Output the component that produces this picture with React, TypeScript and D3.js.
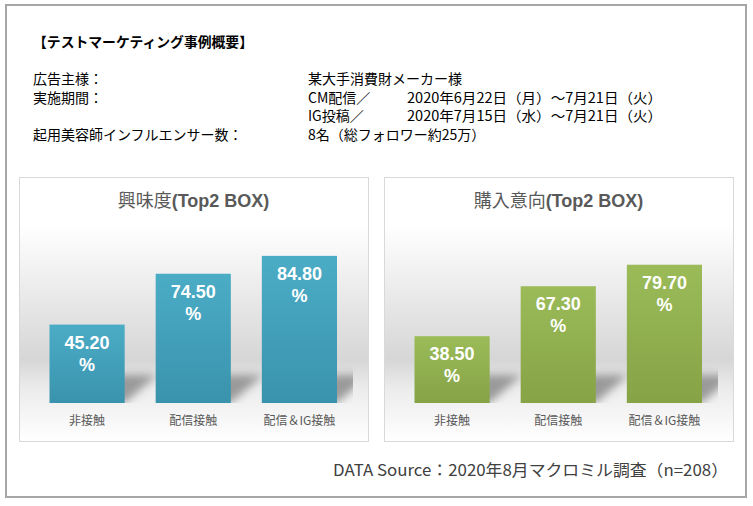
import React from 'react';
import * as d3 from 'd3';

// chart data
const categories = ['非接触', '配信接触', '配信＆IG接触'];
const interestValues = [45.2, 74.5, 84.8];
const purchaseValues = [38.5, 67.3, 79.7];
const panelTitlesJp = ['興味度', '購入意向'];
const panelTitleSuffix = '(Top2 BOX)';

// summary text block
const headerTitle = '【テストマーケティング事例概要】';
const summaryLabels = ['広告主様：', '実施期間：', '', '起用美容師インフルエンサー数：'];
const summaryValues = ['某大手消費財メーカー様', 'CM配信／', 'IG投稿／', '8名（総フォロワー約25万）'];
const summaryDates = ['', '2020年6月22日（月）～7月21日（火）', '2020年7月15日（水）～7月21日（火）', ''];
const sourceNote = 'DATA Source：2020年8月マクロミル調査（n=208）';

const W = 753;
const H = 506;
const jp = '"Noto Sans CJK JP", "Noto Sans", sans-serif';
const titleFont = '"Liberation Sans", Arial, "Noto Sans CJK JP", sans-serif';

type PanelProps = {
  id: string;
  x0: number;
  titleJp: string;
  values: number[];
  top: string;
  bottom: string;
};

const panelW = 349;
const panelTop = 177;
const panelH = 264;
const baseY = 403;

const Panel = ({ id, x0, titleJp, values, top, bottom }: PanelProps) => {
  const x = d3.scaleBand<string>()
    .domain(categories)
    .range([x0 + 15, x0 + 333.5])
    .paddingInner(0.292)
    .paddingOuter(0.146);
  const y = d3.scaleLinear().domain([0, 100]).range([baseY, 229.5]);
  const plotRight = x0 + 334;

  return (
    <g>
      <defs>
        <linearGradient id={`bg-${id}`} x1="0" y1="0" x2="0" y2="1">
          <stop offset="0" stopColor="#ffffff" />
          <stop offset="0.18" stopColor="#ffffff" />
          <stop offset="0.69" stopColor="#d6d6d6" />
          <stop offset="0.8" stopColor="#ececec" />
          <stop offset="1" stopColor="#ffffff" />
        </linearGradient>
        <linearGradient id={`bar-${id}`} x1="0" y1="0" x2="0" y2="1">
          <stop offset="0" stopColor={top} />
          <stop offset="1" stopColor={bottom} />
        </linearGradient>
        <filter id={`blur-${id}`} x="-50%" y="-50%" width="200%" height="200%">
          <feGaussianBlur stdDeviation="4" />
        </filter>
        <clipPath id={`clip-${id}`}>
          <rect x={x0} y={panelTop} width={plotRight - x0} height={baseY - panelTop} />
        </clipPath>
      </defs>
      <rect x={x0 + 0.5} y={panelTop + 0.5} width={panelW} height={panelH}
        fill={`url(#bg-${id})`} stroke="#d9d9d9" strokeWidth={1} />
      <text x={x0 + panelW / 2} y={207} textAnchor="middle" fontFamily={titleFont}
        fontSize={18} fill="#595959">
        <tspan fontWeight="normal">{titleJp}</tspan>
        <tspan fontWeight="bold">{panelTitleSuffix}</tspan>
      </text>

      {/* perspective shadows behind the bars */}
      <g clipPath={`url(#clip-${id})`}>
        {values.map((v, i) => {
          const bx = x(categories[i]) as number;
          const bw = x.bandwidth();
          const d = `M${bx + 10},${baseY} L${bx + bw},${baseY} L${bx + bw + 32},${baseY - 28} L${bx + 42},${baseY - 28} Z`;
          return <path key={i} d={d} fill="#7f7f7f" opacity={0.75} filter={`url(#blur-${id})`} />;
        })}
      </g>

      {values.map((v, i) => {
        const bx = x(categories[i]) as number;
        const bw = x.bandwidth();
        return (
          <g key={i}>
            <rect x={bx} y={y(v)} width={bw} height={baseY - y(v)} fill={`url(#bar-${id})`} />
            <text x={bx + bw / 2} y={y(v) + 24} textAnchor="middle" fontFamily={titleFont}
              fontWeight="bold" fontSize={18} fill="#ffffff">{v.toFixed(2)}</text>
            <text x={bx + bw / 2} y={y(v) + 46} textAnchor="middle" fontFamily={titleFont}
              fontWeight="bold" fontSize={18} fill="#ffffff">%</text>
            <text x={bx + bw / 2} y={425} textAnchor="middle" fontFamily={jp}
              fontSize={12} fill="#595959">{categories[i]}</text>
          </g>
        );
      })}
    </g>
  );
};

export default function App() {
  return (
    <svg width={W} height={H} style={{ position: 'absolute', left: 0, top: 0, background: '#fff' }}>
      <rect x={6} y={5} width={740} height={492} fill="#ffffff" stroke="#a6a6a6" strokeWidth={2} />

      <text x={33} y={47} fontFamily={jp} fontSize={14} fontWeight="bold" fill="#000"
        textLength={220} lengthAdjust="spacingAndGlyphs">{headerTitle}</text>
      {summaryLabels.map((t, i) => (
        <text key={`l${i}`} x={33} y={84 + i * 18.7} fontFamily={jp} fontSize={14} fill="#000">{t}</text>
      ))}
      {summaryValues.map((t, i) => (
        <text key={`v${i}`} x={308} y={84 + i * 18.7} fontFamily={jp} fontSize={14} fill="#000">{t}</text>
      ))}
      {summaryDates.map((t, i) => t ? (
        <text key={`d${i}`} x={407} y={84 + i * 18.7} fontFamily={jp} fontSize={14} fill="#000"
          textLength={255} lengthAdjust="spacingAndGlyphs">{t}</text>
      ) : null)}

      <Panel id="p1" x0={19} titleJp={panelTitlesJp[0]} values={interestValues} top="#4bacc6" bottom="#3a93ad" />
      <Panel id="p2" x0={384} titleJp={panelTitlesJp[1]} values={purchaseValues} top="#9bbb59" bottom="#86a345" />

      <text x={333} y={476} fontFamily={jp} fontSize={16} fill="#404040"
        textLength={395} lengthAdjust="spacingAndGlyphs">{sourceNote}</text>
    </svg>
  );
}
